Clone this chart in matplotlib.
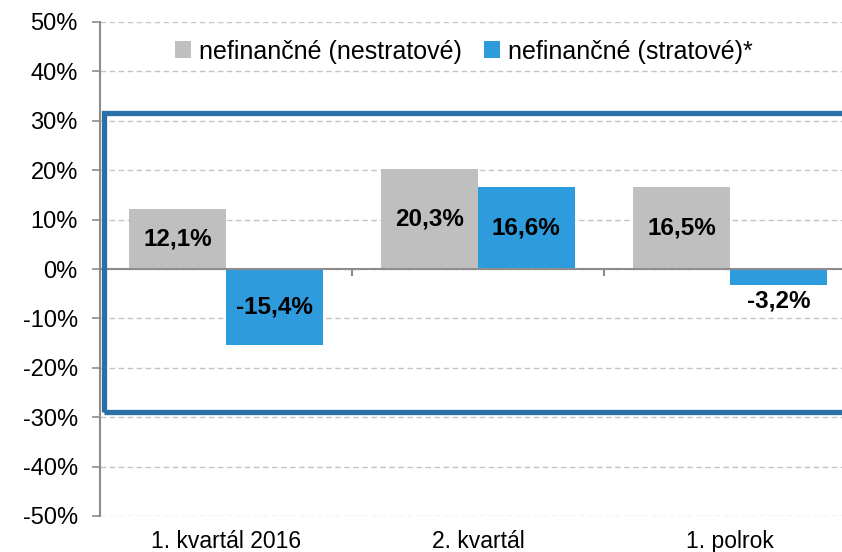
import numpy as np
import matplotlib.pyplot as plt
from matplotlib.patches import Rectangle

# data
categories = ["1. kvartál 2016", "2. kvartál", "1. polrok"]
nestratove = [12.1, 20.3, 16.5]
stratove = [-15.4, 16.6, -3.2]
series_names = ["nefinančné (nestratové)", "nefinančné (stratové)*"]
frame_top, frame_bottom = 31.6, -29.0   # highlighted box

gray = "#bfbfbf"
blue = "#2e9bdc"
frame_col = "#2a6fa6"

plt.rcParams["font.family"] = ["Liberation Sans", "DejaVu Sans"]

fig = plt.figure(figsize=(8.42, 5.52), dpi=100)
# axes runs a little past the right edge, like the original
ax = fig.add_axes([100 / 842, 1 - 516 / 552, 756 / 842, 494 / 552])

x = np.arange(len(categories))
w = 0.383
b1 = ax.bar(x - w / 2, nestratove, w, color=gray, label=series_names[0], zorder=3)
b2 = ax.bar(x + w / 2, stratove, w, color=blue, label=series_names[1], zorder=3)

def fmt(v):
    return f"{v:.1f}%".replace(".", ",")

for bars, vals in ((b1, nestratove), (b2, stratove)):
    for r, v in zip(bars, vals):
        cx = r.get_x() + r.get_width() / 2
        if abs(v) < 6:
            y = v - 1.0 if v < 0 else v + 1.0
            va = "top" if v < 0 else "bottom"
        else:
            y = v / 2
            va = "center"
        ax.text(cx, y, fmt(v), ha="center", va=va, fontsize=17.5,
                fontweight="bold", color="black", zorder=5)

ax.set_xlim(-0.5, 2.5)
ax.set_ylim(-50, 50)
ax.set_yticks(np.arange(-50, 51, 10))
ax.set_yticklabels([f"{t}%" for t in range(-50, 51, 10)], fontsize=17)
ax.yaxis.grid(True, linestyle=(0, (4, 2.5)), color="#c4c4c4", linewidth=1.0, zorder=0)
ax.set_axisbelow(True)

ax.set_xticks(x)
ax.set_xticklabels(categories, fontsize=16.5)
ax.tick_params(axis="x", length=0, pad=10)
ax.tick_params(axis="y", length=6, color="#8c8c8c", width=1.2, pad=10)

for s in ("top", "right", "bottom"):
    ax.spines[s].set_visible(False)
ax.spines["left"].set_color("#8c8c8c")
ax.spines["left"].set_linewidth(1.5)

# zero line with small separators between groups
ax.axhline(0, color="#8c8c8c", linewidth=1.5, zorder=4)
ax.vlines(x[:-1] + 0.5, -1.4, 0, color="#8c8c8c", linewidth=1.5, zorder=4)

# highlight frame
ax.add_patch(Rectangle((-0.484, frame_bottom), 3.2, frame_top - frame_bottom,
                       fill=False, edgecolor=frame_col, linewidth=3.8, zorder=6,
                       clip_on=False))

leg = ax.legend(loc="upper center", bbox_to_anchor=(0.481, 1.0), ncol=2,
                frameon=False, fontsize=18, handlelength=0.65, handleheight=0.65,
                handletextpad=0.3, columnspacing=0.9, borderaxespad=0.3)

fig.savefig("out.png", dpi=100)
